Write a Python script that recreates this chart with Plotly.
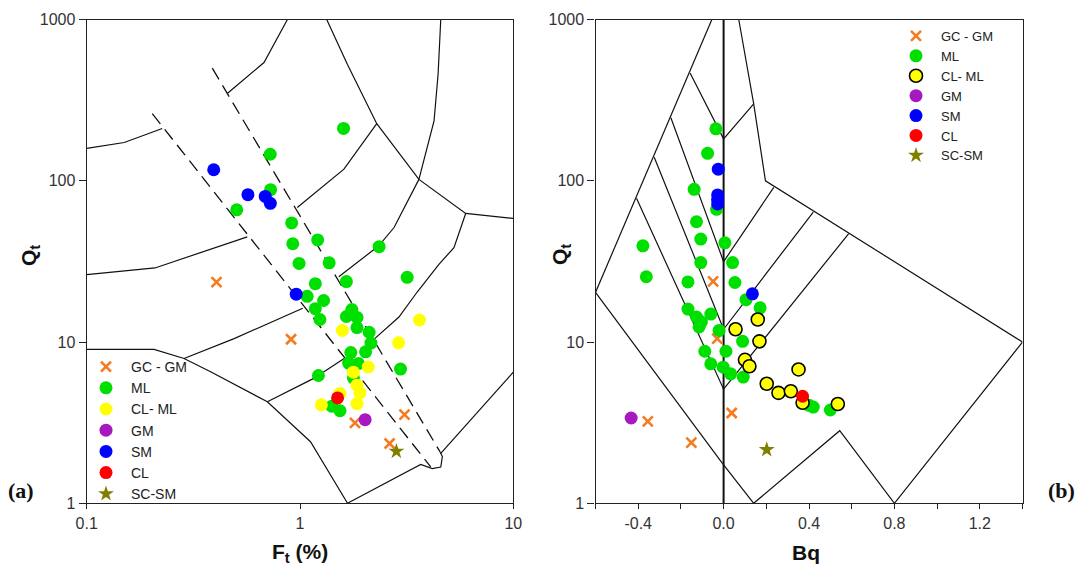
import plotly.graph_objects as go

# ---------------- categories ----------------
categories = ["GC - GM", "ML", "CL- ML", "GM", "SM", "CL", "SC-SM"]

# ---------------- panel (a): Ft (%) vs Qt ----------------
ft_gcgm = [0.406, 0.908, 1.81, 3.09, 2.63]
qt_gcgm_a = [23.5, 10.4, 3.15, 3.55, 2.35]

ft_ml = [1.60, 0.725, 0.728, 0.505, 0.914, 0.925, 1.21, 2.35, 0.99, 1.37, 3.18,
         1.65, 1.18, 1.08, 1.29, 1.18, 1.24, 1.75, 1.65, 1.85, 1.85, 2.11, 2.15,
         2.03, 1.73, 1.69, 1.88, 1.78, 2.96, 1.22, 1.41, 1.54]
qt_ml_a = [211, 146, 88, 66, 54.8, 40.7, 43, 39, 30.7, 31, 25.2,
           23.7, 23, 19.2, 18.1, 16.1, 13.8, 15.9, 14.4, 14.2, 12.3, 11.5, 9.85,
           8.7, 8.6, 7.4, 7.35, 6.0, 6.8, 6.2, 4.0, 3.75]

ft_clml = [1.58, 3.63, 2.90, 2.09, 1.78, 1.85, 1.91, 1.85, 1.26, 1.54]
qt_clml_a = [11.8, 13.7, 9.9, 7.0, 6.5, 5.4, 4.85, 4.15, 4.08, 4.8]

ft_gm = [2.02]
qt_gm_a = [3.3]

ft_sm = [0.394, 0.570, 0.687, 0.726, 0.96]
qt_sm_a = [117, 82, 80, 72.5, 19.8]

ft_cl = [1.50]
qt_cl_a = [4.5]

ft_scsm = [2.83]
qt_scsm_a = [2.1]

# ---------------- panel (b): Bq vs Qt ----------------
bq_gcgm = [-0.049, -0.030, 0.038, -0.355, -0.151]
qt_gcgm_b = [23.8, 10.5, 3.63, 3.22, 2.38]

bq_ml = [-0.036, -0.075, -0.138, -0.033, -0.127, -0.107, 0.006, -0.378, -0.107, 0.042,
         -0.362, -0.167, 0.053, 0.105, 0.171, -0.167, -0.127, -0.060, -0.104, -0.115,
         -0.021, 0.089, -0.088, 0.011, -0.060, -0.002, 0.033, 0.092, 0.40, 0.42, 0.50]
qt_ml_b = [210, 148, 88.5, 66.5, 55.7, 43.5, 41.2, 39.5, 31.1, 31.1,
           25.4, 23.6, 23.4, 18.3, 16.3, 16.0, 14.3, 14.9, 13.3, 12.4,
           11.8, 10.1, 8.77, 8.77, 7.33, 6.98, 6.35, 6.06, 4.05, 3.95, 3.79]

bq_clml = [0.160, 0.056, 0.168, 0.100, 0.121, 0.351, 0.202, 0.257, 0.315, 0.370, 0.535]
qt_clml_b = [13.8, 12.0, 10.1, 7.76, 7.08, 6.76, 5.51, 4.84, 4.95, 4.20, 4.13]

bq_gm = [-0.433]
qt_gm_b = [3.38]

bq_sm = [-0.025, -0.028, -0.028, -0.028, 0.135]
qt_sm_b = [118, 81.7, 76, 71.8, 19.9]

bq_cl = [0.370]
qt_cl_b = [4.61]

bq_scsm = [0.202]
qt_scsm_b = [2.15]

# tick labels
ft_ticks = [0.1, 1, 10]
ft_ticktext = ["0.1", "1", "10"]
qt_ticks = [1, 10, 100, 1000]
qt_ticktext = ["1", "10", "100", "1000"]
bq_ticks = [-0.4, 0.0, 0.4, 0.8, 1.2]
bq_ticktext = ["-0.4", "0.0", "0.4", "0.8", "1.2"]

# ---------------- chart boundaries (data units) ----------------
# panel (a): (Ft, Qt) vertices
a_bound1 = [(0.1, 158.6), (0.150, 172.7), (0.226, 211)]
a_bound2 = [(0.456, 348), (0.678, 541), (0.873, 1000)]
a_bound3 = [(1.334, 1000), (1.667, 528), (2.29, 226), (3.61, 102), (5.98, 62.7), (10, 58.4)]
a_bound4 = [(4.57, 1000), (4.44, 458), (4.25, 235), (3.61, 102)]
a_bound5 = [(0.971, 68.3), (1.607, 118), (2.29, 226)]
a_bound6 = [(3.61, 102), (2.76, 51.3), (2.34, 39.5), (1.86, 31.1), (1.52, 25.4)]
a_bound7 = [(5.98, 62.7), (5.27, 38.5), (4.49, 30.4), (3.55, 20.5), (2.91, 14.3), (2.24, 10.5)]
a_bound8 = [(0.1, 26.2), (0.209, 28.8), (0.566, 44.9)]
a_bound9 = [(0.286, 7.91), (0.491, 10.5), (1.03, 16.2)]
a_bound10 = [(0.1, 9.0), (0.207, 9.0), (0.286, 7.91), (0.381, 6.54), (0.703, 4.26),
             (1.12, 2.41), (1.67, 1.0)]
a_bound11 = [(0.703, 4.26), (1.16, 5.95), (1.61, 7.91)]
a_bound12 = [(1.67, 1.0), (3.68, 1.74), (4.17, 1.64), (4.57, 1.68), (4.65, 1.95), (4.53, 2.09)]
a_bound13 = [(4.57, 2.04), (9.89, 6.39), (10, 6.5)]
a_dashed_left = [(0.203, 261), (4.10, 1.68)]
a_dashed_right = [(0.388, 499), (4.53, 2.09)]

# panel (b): (Bq, Qt) vertices
b_axis0 = [(0, 1), (0, 1000)]
b_outer_left = [(-0.055, 1000), (-0.6, 20.3)]
b_lower_left = [(-0.6, 20.3), (-0.008, 1.79), (0.141, 1.0)]
b_bottom = [(0.141, 1.0), (0.544, 2.82), (0.8, 1.0), (1.4, 10.0)]
b_outer_right = [(1.4, 10.0), (0.196, 100), (0.141, 300), (0.071, 1000)]
b_v1 = [(-0.157, 466), (0, 182), (0.141, 300)]
b_v2 = [(-0.247, 246), (0, 31.5), (0.235, 91)]
b_v3 = [(-0.325, 140), (0, 12.0), (0.42, 64)]
b_v4 = [(-0.408, 78), (0, 5.1), (0.586, 47)]

# ---------------- styling ----------------
W, H = 1081, 571
FONT = "Liberation Sans, Arial, sans-serif"
colors = {
    "GC - GM": "#F47B20",
    "ML": "#00E000",
    "CL- ML": "#FFFF00",
    "GM": "#A818C0",
    "SM": "#0000FF",
    "CL": "#FF0000",
    "SC-SM": "#808000",
}

fig = go.Figure()


def add_poly(pts, xa, ya, dash=None, width=1.2):
    fig.add_trace(go.Scatter(
        x=[p[0] for p in pts], y=[p[1] for p in pts], mode="lines",
        line=dict(color="#111111", width=width, dash=dash),
        xaxis=xa, yaxis=ya, showlegend=False, hoverinfo="skip"))


for b in [a_bound1, a_bound2, a_bound3, a_bound4, a_bound5, a_bound6, a_bound7,
          a_bound8, a_bound9, a_bound10, a_bound11, a_bound12, a_bound13]:
    add_poly(b, "x", "y")
for b in [a_dashed_left, a_dashed_right]:
    add_poly(b, "x", "y", dash="13px,7px", width=1.3)

add_poly(b_axis0, "x2", "y2", width=2.0)
for b in [b_outer_left, b_lower_left, b_bottom, b_outer_right, b_v1, b_v2, b_v3, b_v4]:
    add_poly(b, "x2", "y2")


def marker_for(cat, outlined=False):
    c = colors[cat]
    if cat == "GC - GM":
        return dict(symbol="x-thin", size=10, color=c, line=dict(color=c, width=2.6))
    if cat == "SC-SM":
        return dict(symbol="star", size=12, color=c, line=dict(width=0))
    if cat == "CL- ML" and outlined:
        return dict(symbol="circle", size=13, color=c, line=dict(color="#000000", width=1.6))
    return dict(symbol="circle", size=13, color=c, line=dict(width=0))


panel_a = [(ft_gcgm, qt_gcgm_a), (ft_ml, qt_ml_a), (ft_clml, qt_clml_a), (ft_gm, qt_gm_a),
           (ft_sm, qt_sm_a), (ft_cl, qt_cl_a), (ft_scsm, qt_scsm_a)]
panel_b = [(bq_gcgm, qt_gcgm_b), (bq_ml, qt_ml_b), (bq_clml, qt_clml_b), (bq_gm, qt_gm_b),
           (bq_sm, qt_sm_b), (bq_cl, qt_cl_b), (bq_scsm, qt_scsm_b)]

for cat, (xs, ys) in zip(categories, panel_a):
    fig.add_trace(go.Scatter(x=xs, y=ys, mode="markers", name=cat, marker=marker_for(cat),
                             xaxis="x", yaxis="y", legend="legend"))
for cat, (xs, ys) in zip(categories, panel_b):
    fig.add_trace(go.Scatter(x=xs, y=ys, mode="markers", name=cat,
                             marker=marker_for(cat, outlined=True),
                             xaxis="x2", yaxis="y2", legend="legend2"))

ydom = [1 - 503.3 / H, 1 - 19.5 / H]
axis_common = dict(showgrid=False, zeroline=False, showline=True, mirror=True,
                   linecolor="#222222", linewidth=1.3, ticks="outside", tickcolor="#222222",
                   tickfont=dict(family=FONT, size=16, color="#333333"), automargin=False)

fig.update_layout(
    width=W, height=H,
    margin=dict(l=0, r=0, t=0, b=0),
    paper_bgcolor="white", plot_bgcolor="white",
    font=dict(family=FONT, color="#222222"),
    xaxis=dict(type="log", range=[-1, 1], domain=[86.7 / W, 513.3 / W], anchor="y",
               tickmode="array", tickvals=ft_ticks, ticktext=ft_ticktext, ticklen=5,
               **axis_common),
    yaxis=dict(type="log", range=[0, 3], domain=ydom, anchor="x",
               tickmode="array", tickvals=qt_ticks, ticktext=qt_ticktext, ticklen=7,
               **axis_common),
    xaxis2=dict(range=[-0.6, 1.4], domain=[595.5 / W, 1022.5 / W], anchor="y2",
                tickmode="array", tickvals=bq_ticks, ticktext=bq_ticktext, ticklen=5,
                minor=dict(tick0=0, dtick=0.2, ticks="outside", ticklen=5,
                           tickcolor="#222222", showgrid=False),
                **axis_common),
    yaxis2=dict(type="log", range=[0, 3], domain=ydom, anchor="x2",
                tickmode="array", tickvals=qt_ticks, ticktext=qt_ticktext, ticklen=7,
                **axis_common),
    legend=dict(x=81 / W, y=1 - 351 / H, xanchor="left", yanchor="top",
                bgcolor="rgba(0,0,0,0)", font=dict(family=FONT, size=14, color="#222222"),
                tracegroupgap=0, itemwidth=40),
    legend2=dict(x=891 / W, y=1 - 21 / H, xanchor="left", yanchor="top",
                 bgcolor="rgba(0,0,0,0)", font=dict(family=FONT, size=13, color="#222222"),
                 tracegroupgap=0, itemwidth=40),
)

ann_title = dict(family=FONT, size=21, color="#111111")


def add_text(text, px, py, font, angle=0):
    fig.add_annotation(text=text, x=px / W, y=1 - py / H, xref="paper", yref="paper",
                       xanchor="center", yanchor="middle", textangle=angle,
                       showarrow=False, font=font)


add_text("<b>Q<sub>t</sub></b>", 30, 255, ann_title, angle=-90)
add_text("<b>Q<sub>t</sub></b>", 561, 255, ann_title, angle=-90)
add_text("<b>F<sub>t</sub> (%)</b>", 300, 553, ann_title)
add_text("<b>Bq</b>", 806, 552, ann_title)
ann_lab = dict(family="Liberation Serif, Times New Roman, serif", size=22, color="#111111")
add_text("<b>(a)</b>", 21, 490, ann_lab)
add_text("<b>(b)</b>", 1061, 490, ann_lab)

fig.write_html("out.html", config={"displayModeBar": False},
               post_script="document.body.style.margin='0px';")
